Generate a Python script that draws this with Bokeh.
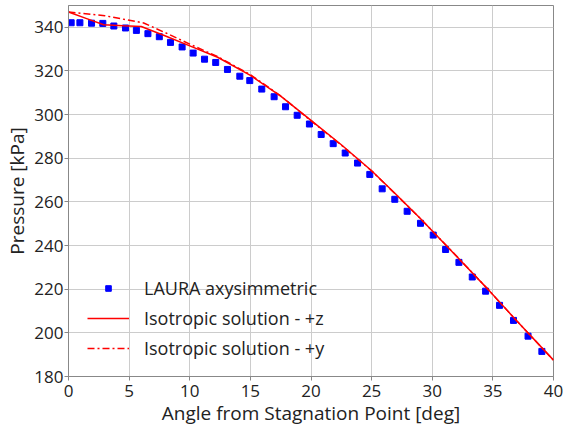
from bokeh.plotting import figure
from bokeh.models import FixedTicker, Range1d, Legend, LegendItem
from bokeh.embed import file_html
from bokeh.resources import INLINE

# LAURA axisymmetric data
laura_deg = [0.22, 0.94, 1.9, 2.83, 3.74, 4.7, 5.6, 6.55, 7.49, 8.41, 9.37, 10.28,
             11.22, 12.14, 13.11, 14.13, 14.95, 15.94, 16.96, 17.9, 18.86, 19.87,
             20.84, 21.83, 22.82, 23.84, 24.85, 25.87, 26.91, 27.93, 29.03, 30.08,
             31.1, 32.2, 33.3, 34.4, 35.55, 36.7, 37.9, 39.04]
laura_p = [342.1, 342.1, 341.9, 341.8, 340.6, 339.7, 338.6, 337.1, 335.7, 333.1, 331.0, 328.2,
           325.4, 323.9, 320.7, 317.6, 315.6, 311.7, 308.2, 303.6, 299.7, 295.7,
           290.9, 286.7, 282.4, 277.8, 272.6, 266.0, 261.2, 255.7, 250.2, 244.8,
           238.2, 232.3, 225.6, 219.1, 212.6, 205.7, 198.5, 191.5]

# Isotropic solution +z
iso_z_deg = [0, 1.5, 2.9, 4.5, 6.0, 8.0, 10.0, 12.3, 15.0, 17.5, 19.9, 22.5, 25.0, 27.0, 29.0,
             32.0, 34.5, 37.0, 40.0]
iso_z_p = [347.0, 344.0, 341.2, 340.7, 340.4, 336.0, 331.5, 326.3, 318.0, 308.5, 297.8, 286.2,
           274.3, 263.5, 252.5, 235.1, 220.5, 205.3, 187.5]

# Isotropic solution +y
iso_y_deg = [0, 3.0, 6.2, 8.0, 10.0, 12.3, 15.0, 17.5, 19.9, 22.5, 25.0, 27.0, 29.0,
             32.0, 34.5, 37.0, 40.0]
iso_y_p = [347.0, 345.3, 342.0, 337.5, 332.3, 326.6, 318.3, 308.6, 297.6, 286.0, 274.2, 263.4,
           252.5, 235.2, 220.5, 205.3, 187.5]

x_ticks = [0, 5, 10, 15, 20, 25, 30, 35, 40]
y_ticks = [180, 200, 220, 240, 260, 280, 300, 320, 340]
x_title = "Angle from Stagnation Point [deg]"
y_title = "Pressure [kPa]"

FONT = "Open Sans"
TXT = "#222222"

p = figure(width=570, height=428, output_backend="svg", toolbar_location=None,
           x_range=Range1d(0, 40), y_range=Range1d(180, 350),
           min_border_left=68, min_border_right=17, min_border_top=5, min_border_bottom=52)

p.outline_line_color = "#888888"
p.outline_line_width = 1

for ax in (p.xaxis[0], p.yaxis[0]):
    ax.axis_line_color = "#888888"
    ax.major_tick_line_color = "#888888"
    ax.major_tick_out = 4
    ax.major_tick_in = 0
    ax.minor_tick_line_color = None
    ax.major_label_text_font = FONT
    ax.major_label_text_font_size = "17px"
    ax.major_label_text_color = TXT
    ax.axis_label_text_font = FONT
    ax.axis_label_text_font_size = "19px"
    ax.axis_label_text_font_style = "normal"
    ax.axis_label_text_color = TXT

p.xaxis.ticker = FixedTicker(ticks=x_ticks)
p.yaxis.ticker = FixedTicker(ticks=y_ticks)
p.xaxis.axis_label = x_title
p.yaxis.axis_label = y_title
p.xaxis.major_label_standoff = 4
p.yaxis.major_label_standoff = 1
p.xaxis.axis_label_standoff = 0
p.yaxis.axis_label_standoff = 1

p.xgrid.ticker = FixedTicker(ticks=x_ticks)
p.ygrid.ticker = FixedTicker(ticks=y_ticks)
p.grid.grid_line_color = "#cccccc"
p.grid.grid_line_width = 1

r_laura = p.scatter(laura_deg, laura_p, marker="square", size=6, color="#0000ff")
r_z = p.line(iso_z_deg, iso_z_p, line_color="#ff0000", line_width=1.5)
r_y = p.line(iso_y_deg, iso_y_p, line_color="#ff0000", line_width=1.5, line_dash="7 3 2 3")

legend = Legend(items=[
    LegendItem(label="LAURA axysimmetric", renderers=[r_laura]),
    LegendItem(label="Isotropic solution - +z", renderers=[r_z]),
    LegendItem(label="Isotropic solution - +y", renderers=[r_y]),
], location=(19, 16))
legend.background_fill_alpha = 0
legend.border_line_color = None
legend.label_text_font = FONT
legend.label_text_font_size = "18px"
legend.label_text_color = TXT
legend.glyph_width = 42
legend.glyph_height = 14
legend.label_standoff = 15
legend.spacing = 6
legend.padding = 0
legend.margin = 0
p.add_layout(legend, "center")

open("out.html", "w").write(file_html(p, INLINE))
